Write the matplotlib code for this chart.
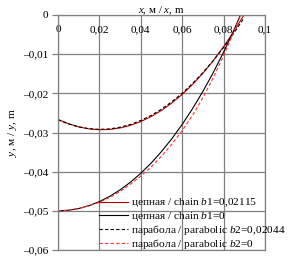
import matplotlib
matplotlib.use('Agg')
import matplotlib.pyplot as plt
from matplotlib.ticker import FuncFormatter

plt.rcParams['font.family'] = ['Liberation Serif', 'DejaVu Serif']
plt.rcParams['mathtext.fontset'] = 'custom'
plt.rcParams['mathtext.rm'] = 'Liberation Serif'
plt.rcParams['mathtext.it'] = 'Liberation Serif:italic'
plt.rcParams['font.size'] = 8.2

# values
x = [0, 0.005, 0.01, 0.015, 0.02, 0.025, 0.03, 0.035, 0.04, 0.045,
     0.05, 0.055, 0.06, 0.065, 0.07, 0.075, 0.08, 0.085, 0.09]

chain_b1 = [-0.02666, -0.02776, -0.02857, -0.02908, -0.02929, -0.02921, -0.02884, -0.02817,
            -0.02720, -0.02593, -0.02436, -0.02247, -0.02027, -0.01774, -0.01487, -0.01166,
            -0.0081, -0.00417, 0.00014]
chain_0 = [-0.05, -0.04985, -0.04941, -0.04867, -0.04764, -0.04630, -0.04465, -0.04269,
           -0.04041, -0.03781, -0.03486, -0.03158, -0.02793, -0.02391, -0.01951, -0.01471,
           -0.00949, -0.00384, 0.00227]
parab_b2 = [-0.02674, -0.02779, -0.02856, -0.02903, -0.0292, -0.02908, -0.02866, -0.02795,
            -0.02694, -0.02564, -0.02404, -0.02215, -0.01997, -0.01748, -0.01471, -0.01164,
            -0.00827, -0.00461, -0.00065]
parab_0 = [-0.05, -0.04985, -0.04943, -0.0487, -0.04784, -0.04655, -0.04505, -0.0432,
           -0.04111, -0.0388, -0.03606, -0.03298, -0.02953, -0.02561, -0.02111, -0.01601,
           -0.01039, -0.00424, 0.00227]

x_ticks = [0, 0.02, 0.04, 0.06, 0.08, 0.1]
x_labels = ['0', '0,02', '0,04', '0,06', '0,08', '0,1']
y_ticks = [0, -0.01, -0.02, -0.03, -0.04, -0.05, -0.06]

grey = '#808080'
red = '#C00000'

fig = plt.figure(figsize=(2.93, 2.61), dpi=100)
ax = fig.add_axes([58 / 293, 11 / 261, 207 / 293, 235 / 261])

ax.plot(x, chain_b1, color=red, lw=0.8, label='цепная / chain $b$1=0,02115')
ax.plot(x, chain_0, color='black', lw=0.8, label='цепная / chain $b$1=0')
ax.plot(x, parab_b2, color='black', lw=0.8, ls=(0, (3, 2)),
        label='парабола / parabolic $b$2=0,02044')
ax.plot(x, parab_0, color='#FF3030', lw=0.8, ls=(0, (3, 2)),
        label='парабола / parabolic $b$2=0')

ax.set_xlim(0, 0.1)
ax.set_ylim(-0.06, 0)
ax.set_xticks(x_ticks)
ax.set_xticklabels(x_labels)
ax.set_yticks(y_ticks)
ax.yaxis.set_major_formatter(FuncFormatter(
    lambda v, p: '0' if abs(v) < 1e-9 else ('%.2f' % v).replace('-', '–').replace('.', ',')))

ax.grid(True, color=grey, lw=0.9)
for s in ax.spines.values():
    s.set_color(grey)
    s.set_linewidth(0.9)

ax.tick_params(axis='x', top=False, bottom=False, labeltop=True, labelbottom=False,
               pad=-14, length=0)
ax.tick_params(axis='y', direction='out', length=4, width=0.9, color=grey, pad=3)

ax.set_title('$x$, м / $x$, m', fontsize=7.8, pad=1.5)
ax.set_ylabel('$y$, м / $y$, m', labelpad=3)

ax.legend(loc='lower left', bbox_to_anchor=(0.2, -0.005), frameon=False, borderpad=0,
          handlelength=2.5, handletextpad=0.3, labelspacing=0.02, borderaxespad=0)

fig.savefig('out.png', dpi=100)
